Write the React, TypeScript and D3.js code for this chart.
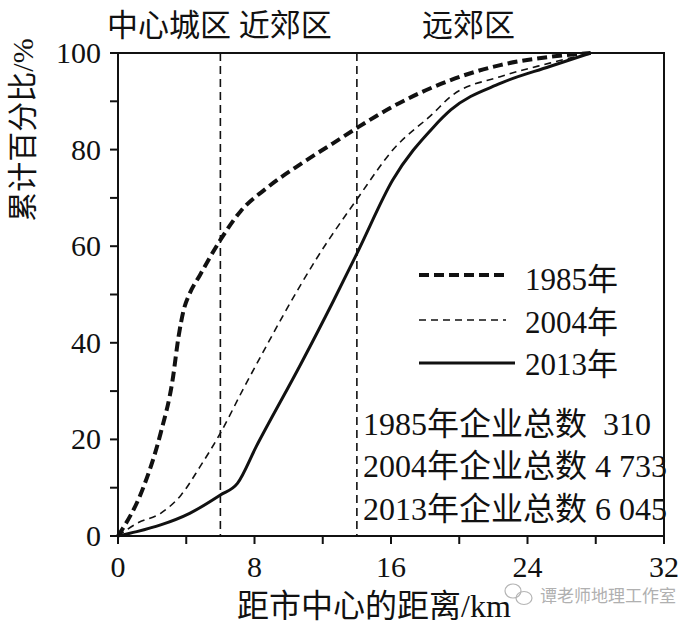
import * as d3 from 'd3';

// distance from city centre (km) and cumulative share (%)
const dist1985 = [0, 1.5, 2.5, 3.2, 3.55, 3.85, 4.2, 4.8, 6, 7.2, 8.7, 10.7, 12.6, 14.1, 16.1, 19.5, 22.4, 25.3, 27.7];
const pct1985 = [0, 10.2, 21.3, 32.3, 41.3, 46.8, 50.2, 54, 61.3, 67.3, 72, 77, 81.3, 84.7, 88.9, 94.4, 97.5, 99.2, 100];

const dist2004 = [0, 1.1, 2.5, 3.7, 4.8, 6, 7.35, 8.8, 9.7, 11.65, 14.1, 16.1, 18.5, 19.5, 22.4, 25.3, 27.7];
const pct2004 = [0, 2.6, 4.7, 8.5, 14.3, 21.3, 30.5, 40, 45.8, 57.5, 70.2, 79.9, 87.6, 91, 95.1, 97.9, 100];

const dist2013 = [0, 1.1, 2.5, 4.2, 6, 7, 8.1, 10.7, 12.6, 14.1, 16.1, 18.5, 19.5, 22.4, 25.3, 27.7];
const pct2013 = [0, 0.9, 2.3, 4.7, 8.5, 10.9, 18.5, 35.5, 48.5, 59.2, 73.7, 84.7, 88.2, 93.7, 97.2, 100];

const zoneBounds = [6, 14];
const xTicks = [0, 4, 8, 12, 16, 20, 24, 28, 32];
const xLabels = [0, 8, 16, 24, 32];
const yTicks = [0, 10, 20, 30, 40, 50, 60, 70, 80, 90, 100];
const yLabels = [0, 20, 40, 60, 80, 100];
const years = ['1985年', '2004年', '2013年'];
const totals = ['1985年企业总数  310', '2004年企业总数 4 733', '2013年企业总数 6 045'];

const W = 700;
const H = 625;
const FONT = '"Liberation Serif", "Noto Sans CJK SC", serif';

const x = d3.scaleLinear().domain([0, 32]).range([118, 664]);
const y = d3.scaleLinear().domain([0, 100]).range([536, 53]);

const line = d3
  .line<[number, number]>()
  .x((d) => x(d[0]))
  .y((d) => y(d[1]))
  .curve(d3.curveMonotoneX);

const zip = (a: number[], b: number[]) => a.map((v, i) => [v, b[i]] as [number, number]);

const series = [
  { pts: zip(dist1985, pct1985), width: 4, dash: '10 5' },
  { pts: zip(dist2004, pct2004), width: 1.6, dash: '7 5' },
  { pts: zip(dist2013, pct2013), width: 3, dash: undefined as string | undefined },
];

const legendY = [275, 320, 363];
const legendBase = [290, 333, 375];
const totalBase = [435, 477, 520];

export default function App() {
  const [x0, x1] = x.range();
  const [y0, y1] = y.range();
  return (
    <svg width={W} height={H} style={{ display: 'block', position: 'absolute', left: 0, top: 0, background: '#fff' }} fontFamily={FONT}>
      <rect width={W} height={H} fill="#fff" />

      {/* zone boundaries */}
      {zoneBounds.map((b) => (
        <line key={b} x1={x(b)} x2={x(b)} y1={y1} y2={y0} stroke="#111" strokeWidth={1.6} strokeDasharray="8 5" />
      ))}

      {/* frame */}
      <rect x={x0} y={y1} width={x1 - x0} height={y0 - y1} fill="none" stroke="#111" strokeWidth={2} />

      {/* ticks */}
      {xTicks.map((t) => (
        <line key={'xt' + t} x1={x(t)} x2={x(t)} y1={y0} y2={y0 + 8} stroke="#111" strokeWidth={2} />
      ))}
      {yTicks.map((t) => (
        <line key={'yt' + t} x1={x0 - 8} x2={x0} y1={y(t)} y2={y(t)} stroke="#111" strokeWidth={2} />
      ))}
      {xLabels.map((t) => (
        <text key={'xl' + t} x={x(t)} y={577} fontSize={30} textAnchor="middle" fill="#111">
          {t}
        </text>
      ))}
      {yLabels.map((t) => (
        <text key={'yl' + t} x={101} y={y(t) + 10} fontSize={30} textAnchor="end" fill="#111">
          {t}
        </text>
      ))}

      {/* curves */}
      {series.map((s, i) => (
        <path key={i} d={line(s.pts) ?? ''} fill="none" stroke="#111" strokeWidth={s.width} strokeDasharray={s.dash} />
      ))}

      {/* zone titles */}
      <text x={107} y={36} fontSize={31} fill="#111" style={{ whiteSpace: 'pre' }}>
        中心城区 近郊区
      </text>
      <text x={422} y={36} fontSize={31} fill="#111">
        远郊区
      </text>

      {/* axis titles */}
      <text
        transform={`translate(22, 130) rotate(-90)`}
        fontSize={30}
        textAnchor="middle"
        dominantBaseline="central"
        fill="#111"
      >
        累计百分比/%
      </text>
      <text x={237} y={617} fontSize={32} fill="#111">
        距市中心的距离/km
      </text>

      {/* legend */}
      {series.map((s, i) => (
        <g key={'lg' + i}>
          <line x1={419} x2={i === 2 ? 515 : 506} y1={legendY[i]} y2={legendY[i]} stroke="#111" strokeWidth={s.width} strokeDasharray={s.dash} />
          <text x={525} y={legendBase[i]} fontSize={31} fill="#111">
            {years[i]}
          </text>
        </g>
      ))}
      {totals.map((t, i) => (
        <text key={'tot' + i} x={363} y={totalBase[i]} fontSize={32} fill="#111" style={{ whiteSpace: 'pre' }}>
          {t}
        </text>
      ))}

      {/* watermark */}
      <g stroke="#b5b5b5" fill="none" strokeWidth={1.2}>
        <ellipse cx={513} cy={591} rx={8} ry={7} />
        <ellipse cx={524} cy={598} rx={8} ry={6.5} />
      </g>
      <text x={540} y={602} fontSize={17} fill="#b0b0b0" fontFamily='"Noto Sans CJK SC", sans-serif'>
        谭老师地理工作室
      </text>
    </svg>
  );
}
